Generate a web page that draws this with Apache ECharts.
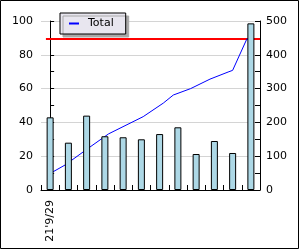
<!DOCTYPE html>
<html>
<head>
<meta charset="utf-8">
<script src="https://cdn.jsdelivr.net/npm/echarts@6/dist/echarts.min.js"></script>
<style>html,body{margin:0;padding:0;background:#fff;}#c{width:300px;height:250px;}</style>
</head>
<body>
<div id="c"></div>
<script>
// Categories (tick labels: only the first is shown in the reference)
var categories = ["21'9/29", "", "", "", "", "", "", "", "", "", "", ""];
// Bars: pages per period (left axis)
var pages = [43, 28, 44, 31.8, 31.2, 30, 33.1, 37.1, 21.3, 29, 21.9, 98.6];
// Running total line (right axis), [category position, value]
var totalX = [0, 0.82, 2.18, 3.2, 5.1, 6.2, 6.75, 7.7, 8.76, 9.75, 10.0, 10.78, 11];
var totalY = [49, 74, 127, 166, 217, 257, 281, 300, 328, 349, 354, 447, 448];
// Reference (red) line: final total on right axis
var refX = [-0.23, 11.5];
var refY = [447, 447];
var leftTicks = {min: 0, max: 100, step: 20};
var rightTicks = {min: 0, max: 500, step: 100};

var font = 'DejaVu Sans';
var chart = echarts.init(document.getElementById('c'), null, {renderer: 'canvas'});
var totalData = totalX.map(function (x, i) { return [x, totalY[i]]; });
var refData = refX.map(function (x, i) { return [x, refY[i]]; });

chart.setOption({
  animation: false,
  backgroundColor: '#ffffff',
  textStyle: {fontFamily: font, color: '#000'},
  grid: {left: 41, right: 40, top: 21, bottom: 60, containLabel: false, outerBoundsMode: 'none'},
  legend: {
    data: [{name: 'Total', icon: 'rect'}],
    left: 60, top: 13,
    padding: [5, 12, 5, 9],
    itemWidth: 10, itemHeight: 2, itemGap: 0,
    backgroundColor: '#e8e6ef',
    borderColor: '#000', borderWidth: 1,
    shadowColor: '#a8a8a8', shadowBlur: 0, shadowOffsetX: 3, shadowOffsetY: 3,
    textStyle: {fontFamily: font, fontSize: 11, color: '#000', padding: [0, 0, 0, 4]}
  },
  xAxis: [{
    type: 'category', data: categories, boundaryGap: true,
    axisLine: {show: true, lineStyle: {color: '#000', width: 1}},
    axisTick: {show: true, inside: true, length: 5, lineStyle: {color: '#000'}},
    axisLabel: {interval: 0, rotate: 90, margin: 10, fontFamily: font, fontSize: 11, color: '#000'},
    splitLine: {show: false}
  }, {
    type: 'value', min: -0.5, max: 11.5, show: false
  }],
  yAxis: [{
    type: 'value', name: 'Pages', nameLocation: 'middle', nameGap: 28,
    nameTextStyle: {fontFamily: font, fontSize: 11, color: '#000'},
    min: leftTicks.min, max: leftTicks.max, interval: leftTicks.step,
    axisLine: {show: true, lineStyle: {color: '#000'}},
    axisTick: {show: true, inside: true, length: 4, lineStyle: {color: '#000'}},
    minorTick: {show: true, splitNumber: 2, length: 4, lineStyle: {color: '#000'}},
    axisLabel: {margin: 8, fontFamily: font, fontSize: 11, color: '#000'},
    splitLine: {show: true, lineStyle: {color: '#d4d4d4', width: 1}}
  }, {
    type: 'value', position: 'right',
    min: rightTicks.min, max: rightTicks.max, interval: rightTicks.step,
    axisLine: {show: true, lineStyle: {color: '#000'}},
    axisTick: {show: true, inside: true, length: 5, lineStyle: {color: '#000'}},
    minorTick: {show: true, splitNumber: 2, length: 5, lineStyle: {color: '#000'}},
    axisLabel: {margin: 6, fontFamily: font, fontSize: 11, color: '#000'},
    splitLine: {show: false}
  }],
  series: [{
    name: 'ref', type: 'line', xAxisIndex: 1, yAxisIndex: 1, data: refData,
    showSymbol: false, symbol: 'none', z: 1, silent: true,
    lineStyle: {color: '#ff0000', width: 2}
  }, {
    name: 'Total', type: 'line', xAxisIndex: 1, yAxisIndex: 1, data: totalData,
    showSymbol: false, symbol: 'none', z: 2,
    itemStyle: {color: '#0000ff'},
    lineStyle: {color: '#0000ff', width: 1}
  }, {
    name: 'Pages', type: 'bar', xAxisIndex: 0, yAxisIndex: 0, data: pages,
    barWidth: 7, z: 3,
    itemStyle: {color: '#add8e6', borderColor: '#000', borderWidth: 1}
  }],
  graphic: [{
    type: 'rect', z: 100, silent: true,
    shape: {x: 0.5, y: 0.5, width: 298, height: 248},
    style: {fill: 'none', stroke: '#000', lineWidth: 1}
  }]
});
</script>
</body>
</html>
